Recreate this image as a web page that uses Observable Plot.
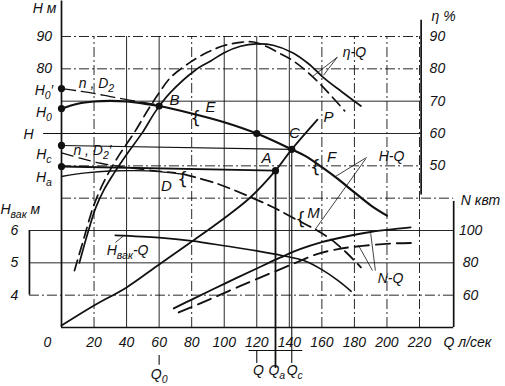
<!DOCTYPE html>
<html><head><meta charset="utf-8">
<script src="https://cdn.jsdelivr.net/npm/d3@7"></script>
<script src="https://cdn.jsdelivr.net/npm/@observablehq/plot@0.6"></script>
<style>body{margin:0;background:#fff}</style>
</head><body><div id="chart"></div>
<script>
// ---------- data ----------
const qTicks=[0,20,40,60,80,100,120,140,160,180,200,220];
const gridQ=[20,40,60,80,100,120,140,160,180,200,220];
const gridH=[10,20,30,40,50,60,70,80,90];
const hLabels=[90,80];
const etaTicks=[90,80,70,60,50];
const nTicks=[100,80,60];
const hvakTicks=[6,5,4];

// H-Q, n, D2 (solid)
const hqQ=[0,10,20,30,40,50,60,80,100,120,141.5,150,160,170,180,190,200];
const hqH=[67.7,69.2,69.9,70.1,69.9,69.3,68.5,66.2,63.5,60,55.1,53,49.6,45.9,41.8,37.8,34.6];
// H-Q from H0' (dashed, merges at B)
const h0pQ=[0,10,20,30,40,50,58];
const h0pH=[73.9,73.2,72.4,71.4,70.5,69.6,69.0];
// lower H-Q (D ... M)
const lowQ=[0,15,30,45,60,75,95,114,130,145,155,165,175,184];
const lowH=[46.7,47.8,48.4,48.5,48.2,47.4,44.6,40.8,37.2,33.2,30.6,27.5,23.2,18.6];
// H-Q n, D2' (dashed, merges near D)
const d2pQ=[0,12,24,40,55,70];
const d2pH=[54,52.3,50.8,49.5,48.6,47.9];
// pipeline characteristic P
const pQ=[0,20,40,60,81,100,116,131.5,141.5,157.3];
const pH=[0.6,6.8,12.4,19.5,26.9,33.8,40.2,48.5,55.1,64.3];
// efficiency eta-Q
const etaQ=[11,16,21,26,32,40,50,58,67,82,92,100,110,120,130,142,152,161,172,184];
const etaV=[20,29,37,42.5,47.5,53.5,60.5,67,72.7,79.5,82.5,85,87,87.7,87.3,85,81.5,77.3,73,68.5];
const etaDQ=[8,14,20,27,35,45,53,60,67,79,90,100,110,118,126,134,142,150,158,166,174];
const etaDV=[17.6,28,38,46,53,60.5,67.2,72.6,77.3,82,85.2,87.2,88.2,88.3,86.9,84.8,82.6,79.5,75.8,71.5,67];
// power N-Q (kW)
const nQ=[69,80,100,120,135,147,160,172,190,214.5];
const nV=[51.8,57.3,67,76.5,83.5,88.6,92.8,95.7,99.1,101.9];
const ndQ=[72,90,110,130,145,157,170,185,204,216];
const ndV=[49.3,57,65.7,74.2,80.5,85.4,88.5,90.5,92,92.3];
// vacuum head Hvak-Q (m)
const hvQ=[33,60,80,100,120,136,150,160,170,178];
const hvV=[5.85,5.78,5.68,5.53,5.37,5.22,5.05,4.79,4.45,4.12];
// named points
const ptNames=["H0'","H0","Hc","Ha","B","Q","C","A"];
const ptQ=[0,0,0,0,60,120,141.5,131.5];
const ptH=[73.9,67.7,56.3,49.8,68.5,60,55.1,48.5];

// ---------- helpers ----------
const zip=(xs,ys)=>xs.map((x,i)=>({x,y:ys[i]}));
const nToH=n=>(n-40)/2;      // N axis mapped onto H scale
const vToH=v=>(v-3)*10;      // Hvak axis mapped onto H scale
const F="Liberation Sans, Arial, sans-serif";
const K="#111";
const pt=name=>{const i=ptNames.indexOf(name);return {x:ptQ[i],y:ptH[i]};};
const T=(rows,o={})=>Plot.text(rows.map(r=>({t:r[0],x:r[1],y:r[2]})),{x:"x",y:"y",text:"t",fontSize:14,fontStyle:"italic",fontFamily:F,fill:K,...o});
const L=(d,o={})=>Plot.line(d,{x:"x",y:"y",curve:"catmull-rom",stroke:K,...o});
const seg=(a,b,o={})=>Plot.link([{a,b}],{x1:d=>d.a[0],y1:d=>d.a[1],x2:d=>d.b[0],y2:d=>d.b[1],stroke:K,strokeWidth:0.8,...o});

const solidQ=new Set([40,60,100,120,140]);
const solidH=new Set([60,70,30,20]);

const low=zip(lowQ,lowH);
const A=pt("A"),C=pt("C"),Hc=pt("Hc"),Ha=pt("Ha");

const plot=Plot.plot({
  width:505,height:386,
  marginLeft:61,marginRight:86,marginTop:36,marginBottom:59,
  x:{domain:[0,220],axis:null},
  y:{domain:[0,90],axis:null},
  style:{background:"white",fontFamily:F,fontSize:"14px",color:K},
  marks:[
    // grid
    Plot.ruleX(gridQ.filter(q=>solidQ.has(q)),{y1:0,y2:90,stroke:K,strokeWidth:0.9}),
    Plot.ruleX(gridQ.filter(q=>!solidQ.has(q)),{y1:0,y2:90,stroke:K,strokeWidth:0.9,strokeDasharray:"10,3,2,3"}),
    Plot.ruleY(gridH.filter(h=>solidH.has(h)),{y:d=>d,x1:d=>d<=30?-19.7:0,x2:d=>d<=40?241:221,stroke:K,strokeWidth:0.9}),
    Plot.ruleY(gridH.filter(h=>!solidH.has(h)),{y:d=>d,x1:d=>d<=30?-19.7:0,x2:d=>d<=40?241:221,stroke:K,strokeWidth:0.9,strokeDasharray:"10,3,2,3"}),
    // axes
    Plot.ruleX([0],{y1:0,y2:101,stroke:K,strokeWidth:1.7}),
    Plot.ruleX([221],{y1:41,y2:95,stroke:K,strokeWidth:1.7}),
    Plot.ruleX([241],{y1:0,y2:39,stroke:K,strokeWidth:1.7}),
    Plot.ruleX([-19.7],{y1:10,y2:30,stroke:K,strokeWidth:1.7}),
    Plot.ruleY([0],{x1:0,x2:241,stroke:K,strokeWidth:1.7}),
    // H line and projections
    Plot.ruleY([60],{x1:-11,x2:120,stroke:K,strokeWidth:1.1}),
    seg([Hc.x,Hc.y],[C.x,C.y],{strokeWidth:1.1}),
    seg([Ha.x,Ha.y],[A.x,A.y],{strokeWidth:1.8}),
    seg([A.x,A.y],[A.x,-12.5],{strokeWidth:1.8}),
    seg([C.x,C.y],[C.x,-11],{strokeWidth:1.1}),
    seg([60,-8.5],[60,-11.5],{strokeWidth:1.1}),
    seg([120,-7],[120,-11],{strokeWidth:1.1}),
    seg([115,-7.1],[148,-7.1],{strokeWidth:1.1}),
    // curves
    L(zip(etaQ,etaV),{strokeWidth:1.7}),
    L(zip(etaDQ,etaDV),{strokeWidth:1.7,strokeDasharray:"11,6"}),
    L(zip(hqQ,hqH),{strokeWidth:2.2}),
    L(zip(h0pQ,h0pH),{strokeWidth:1.3,strokeDasharray:"14,6"}),
    L(low.filter(d=>d.x<=75),{strokeWidth:1.3}),
    L(low.filter(d=>d.x>=75),{strokeWidth:1.8,strokeDasharray:"12,6"}),
    L(zip(d2pQ,d2pH),{strokeWidth:1.3,strokeDasharray:"12,6"}),
    L(zip(pQ,pH),{strokeWidth:1.8}),
    L(zip(nQ,nV).map(d=>({x:d.x,y:nToH(d.y)})),{strokeWidth:1.9}),
    L(zip(ndQ,ndV).map(d=>({x:d.x,y:nToH(d.y)})),{strokeWidth:1.9,strokeDasharray:"14,7"}),
    L(zip(hvQ,hvV).map(d=>({x:d.x,y:vToH(d.y)})),{strokeWidth:1.6}),
    // leaders
    seg([169.5,83.6],[161,78]),seg([169.5,83.6],[154,77.5]),
    seg([187.5,52.6],[168,46.6]),seg([187,52.2],[156,30.4]),
    seg([191.1,17.6],[182.5,25.4]),seg([192.9,17.6],[190,29.1]),
    seg([33.2,26.3],[38,28.3]),
    // points
    Plot.dot(zip(ptQ,ptH),{x:"x",y:"y",r:3.6,fill:K,stroke:"none"}),
    // brackets
    T([["{",82.4,64.6],["{",156,49.6],["{",74.4,45.8],["{",147,33.4]],{fontSize:17,fontStyle:"normal",fontFamily:"DejaVu Sans"}),
    // point & curve labels
    T([["B",69.5,70.2],["E",91.6,68.0],["C",143.2,60.2],["A",126,52.3],["P",164.1,65],["F",166,52.6],["D",64.5,43.6],["M",154.9,35.3]],{fontSize:15}),
    T([["η-Q",180,85.2],["H-Q",202.8,52.9],["N-Q",202.2,15.2],["H_{вак}-Q",40.6,23.8],["n , D_{2}",21.5,75.6],["n , D_{2}′",19,54.6]]),
    // left axis
    T([["H м",-10.4,98.7]]),
    T(hLabels.map(h=>[String(h),-10.6,h])),
    T([["H_{0}′",-10.8,73.4],["H_{0}",-10.8,66.4],["H",-20.3,59.7],["H_{c}",-10.8,53.6],["H_{a}",-10.8,46.4]]),
    T([["H_{вак} м",-37.5,36.5]],{textAnchor:"start"}),
    T(hvakTicks.map(v=>[String(v),-28.9,vToH(v)])),
    // right axes
    T([["η %",234.8,96.2]]),
    T(etaTicks.map(e=>[String(e),231,e])),
    T([["N квт",257.5,39.3]]),
    T(nTicks.map(n=>[String(n),251.4,nToH(n)])),
    // x axis
    T(qTicks.map(q=>[String(q),q===0?-8.6:q,-4.6])),
    T([["Q л/сек",249.5,-4.6]]),
    T([["Q_{0}",60,-14.6],["Q",121,-13.2],["Q_{a}",132.3,-13.2],["Q_{c}",143.3,-13.2]])
  ]
});

// subscript / superscript markup -> tspans
function rich(root){
  const NS="http://www.w3.org/2000/svg";
  root.querySelectorAll("text").forEach(t=>{
    const s=t.textContent;
    if(!s.includes("_{")&&!s.includes("^{")) return;
    const host=t.querySelector("tspan")||t;
    host.textContent="";
    const re=/([_^])\{([^}]*)\}|([^_^]+)/g;let m;let shift=0;
    while((m=re.exec(s))){
      const ts=document.createElementNS(NS,"tspan");
      if(m[3]!==undefined){ts.textContent=m[3];if(shift){ts.setAttribute("dy",(-shift)+"px");shift=0;}}
      else{const d=m[1]==="_"?4:-5;ts.textContent=m[2];ts.setAttribute("font-size","10.5");ts.setAttribute("dy",(d-shift)+"px");shift=d;}
      host.appendChild(ts);
    }
  });
}
rich(plot);
document.getElementById("chart").appendChild(plot);
</script>
</body></html>
